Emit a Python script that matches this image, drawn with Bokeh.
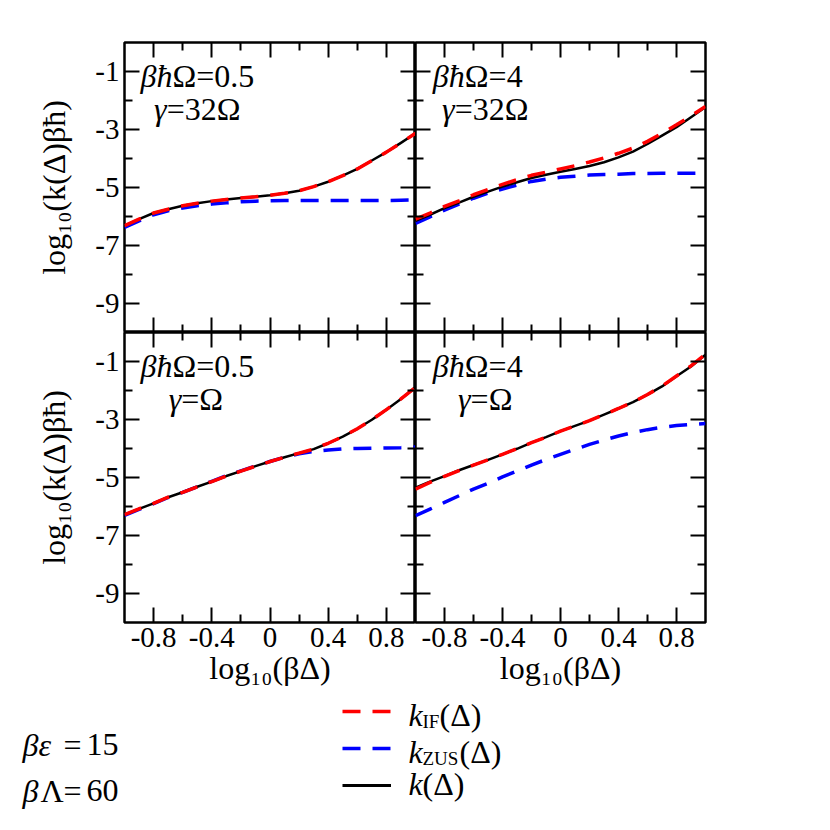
from bokeh.plotting import figure
from bokeh.models import Range1d, LinearAxis, FixedTicker, Label, Legend, LegendItem
from bokeh.layouts import column, row
from bokeh.embed import file_html
from bokeh.resources import INLINE

SERIF = "Liberation Serif"
NAN = float("nan")

# ---------------- data ----------------
x_vals = [-1.0, -0.9, -0.8, -0.7, -0.6, -0.5, -0.4, -0.3, -0.2, -0.1, 0.0,
          0.1, 0.2, 0.3, 0.4, 0.5, 0.6, 0.7, 0.8, 0.9, 1.0]

# top-left: beta hbar Omega = 0.5, gamma = 32 Omega
tl_k = [-6.32, -6.09, -5.88, -5.75, -5.63, -5.54, -5.47, -5.41, -5.36, -5.32, -5.27,
        -5.20, -5.11, -4.97, -4.80, -4.59, -4.36, -4.07, -3.78, -3.46, -3.13]
tl_kif = [-6.32, -6.09, -5.88, -5.75, -5.63, -5.54, -5.47, -5.41, -5.36, -5.32, -5.27,
          -5.20, -5.11, -4.97, -4.80, -4.59, -4.36, -4.07, -3.78, -3.46, -3.13]
tl_kzus = [-6.38, -6.15, -5.94, -5.80, -5.71, -5.63, -5.57, -5.53, -5.49, -5.47, -5.46,
           -5.45, -5.45, -5.45, -5.45, -5.45, -5.45, -5.45, -5.45, -5.44, -5.43]

# top-right: beta hbar Omega = 4, gamma = 32 Omega
tr_k = [-6.15, -5.94, -5.71, -5.52, -5.32, -5.14, -4.97, -4.82, -4.67, -4.56, -4.46,
        -4.36, -4.26, -4.13, -3.96, -3.76, -3.50, -3.21, -2.92, -2.58, -2.23]
tr_kif = [-6.09, -5.88, -5.65, -5.46, -5.25, -5.07, -4.89, -4.73, -4.58, -4.47, -4.36,
          -4.25, -4.12, -3.98, -3.82, -3.64, -3.41, -3.13, -2.84, -2.53, -2.21]
tr_kzus = [-6.24, -6.01, -5.78, -5.57, -5.37, -5.19, -5.05, -4.92, -4.79, -4.71, -4.65,
           -4.61, -4.57, -4.55, -4.54, -4.52, -4.52, -4.51, -4.51, -4.51, -4.50]

# bottom-left: beta hbar Omega = 0.5, gamma = Omega
bl_k = [-6.28, -6.08, -5.89, -5.68, -5.51, -5.32, -5.14, -4.95, -4.78, -4.61, -4.45,
        -4.30, -4.16, -4.02, -3.82, -3.59, -3.32, -3.01, -2.66, -2.29, -1.89]
bl_kif = [-6.28, -6.08, -5.89, -5.68, -5.51, -5.32, -5.14, -4.95, -4.78, -4.61, -4.45,
          -4.30, -4.16, -4.02, -3.82, -3.59, -3.32, -3.01, -2.66, -2.29, -1.89]
bl_kzus = [-6.31, -6.10, -5.90, -5.69, -5.51, -5.32, -5.13, -4.94, -4.77, -4.60, -4.45,
           -4.30, -4.18, -4.10, -4.05, -4.01, -4.00, -3.99, -3.98, -3.97, -3.95]

# bottom-right: beta hbar Omega = 4, gamma = Omega
br_k = [-5.35, -5.14, -4.95, -4.75, -4.57, -4.39, -4.20, -4.01, -3.80, -3.61, -3.40,
        -3.22, -3.04, -2.83, -2.62, -2.40, -2.14, -1.86, -1.51, -1.17, -0.77]
br_kif = [-5.40, -5.17, -4.96, -4.76, -4.57, -4.39, -4.20, -4.01, -3.80, -3.61, -3.40,
          -3.22, -3.04, -2.83, -2.62, -2.40, -2.14, -1.85, -1.50, -1.15, -0.75]
br_kzus = [-6.32, -6.09, -5.86, -5.63, -5.40, -5.20, -4.98, -4.78, -4.57, -4.38, -4.20,
           -4.03, -3.86, -3.71, -3.57, -3.45, -3.35, -3.27, -3.21, -3.17, -3.14]

x_major = [-0.8, -0.4, 0.0, 0.4, 0.8]
x_major_labels = ["-0.8", "-0.4", "0", "0.4", "0.8"]
x_minor = [-0.6, -0.2, 0.2, 0.6]
y_major = [-9, -7, -5, -3, -1]
y_major_labels = ["-9", "-7", "-5", "-3", "-1"]
y_minor = [-8, -6, -4, -2]

panel_text1 = [("βħ", "Ω=0.5"), ("βħ", "Ω=4"), ("βħ", "Ω=0.5"), ("βħ", "Ω=4")]
panel_text2 = [("γ", "=32Ω"), ("γ", "=32Ω"), ("γ", "=Ω"), ("γ", "=Ω")]
split1 = [-0.67, -0.66, -0.67, -0.66]
split2 = [-0.71, -0.73, -0.61, -0.62]

x_title = "log₁₀(βΔ)"
y_title = "log₁₀(k(Δ)βħ)"

RED = "#ff0000"
BLUE = "#0000ff"
DASH = "18 12"


def style_axis(ax, major, labels, minor, show, title=None):
    ax.ticker = FixedTicker(ticks=major, minor_ticks=minor)
    ax.major_tick_in = 15
    ax.major_tick_out = 0
    ax.minor_tick_in = 8
    ax.minor_tick_out = 0
    ax.major_tick_line_width = 2
    ax.minor_tick_line_width = 2
    ax.major_tick_line_color = "black"
    ax.minor_tick_line_color = "black"
    ax.axis_line_color = None
    ax.major_label_text_font = SERIF
    if show:
        ax.major_label_overrides = {m: l for m, l in zip(major, labels)}
        ax.major_label_text_font_size = "29px"
        ax.major_label_text_color = "black"
        ax.major_label_standoff = 5
    else:
        ax.major_label_overrides = {m: "" for m in major}
        ax.major_label_text_font_size = "1px"
        ax.major_label_text_color = None
        ax.major_label_standoff = 0
    if title:
        ax.axis_label = title
        ax.axis_label_text_font = SERIF
        ax.axis_label_text_font_size = "32px"
        ax.axis_label_text_font_style = "normal"
        ax.axis_label_text_color = "black"


def make_panel(idx, k, kif, kzus, left, top):
    p = figure(frame_width=291 if left else 290, frame_height=290,
               x_range=Range1d(-1, 1), y_range=Range1d(-10, 0),
               x_axis_location=None, y_axis_location=None,
               output_backend="svg", toolbar_location=None,
               min_border_left=124 if left else 0,
               min_border_right=0 if left else 24,
               min_border_top=42 if top else 0,
               min_border_bottom=0 if top else 75)
    p.xgrid.visible = False
    p.ygrid.visible = False
    p.outline_line_color = "black"
    p.outline_line_width = 2.5
    p.background_fill_color = "white"
    p.border_fill_color = "white"

    ax_b = LinearAxis()
    style_axis(ax_b, x_major, x_major_labels, x_minor, not top, None if top else x_title)
    if not top:
        ax_b.axis_label_standoff = 0
    p.add_layout(ax_b, "below")
    ax_t = LinearAxis()
    style_axis(ax_t, x_major, x_major_labels, x_minor, False)
    p.add_layout(ax_t, "above")
    ax_l = LinearAxis()
    style_axis(ax_l, y_major, y_major_labels, y_minor, left, y_title if left else None)
    if left:
        ax_l.axis_label_standoff = 20
    p.add_layout(ax_l, "left")
    ax_r = LinearAxis()
    style_axis(ax_r, y_major, y_major_labels, y_minor, False)
    p.add_layout(ax_r, "right")

    p.line(x_vals, kzus, line_color=BLUE, line_width=3.5, line_dash=DASH)
    p.line(x_vals, k, line_color="black", line_width=2.5, line_join="round")
    p.line(x_vals, kif, line_color=RED, line_width=3.5, line_dash=DASH)

    (a1, b1), (a2, b2) = panel_text1[idx], panel_text2[idx]
    for txt, style, align, xs, ys in [
        (a1, "italic", "right", split1[idx], -1.14),
        (b1, "normal", "left", split1[idx], -1.14),
        (a2, "italic", "right", split2[idx], -2.31),
        (b2, "normal", "left", split2[idx], -2.31),
    ]:
        p.add_layout(Label(x=xs, y=ys, text=txt, text_font=SERIF,
                           text_font_size="32px", text_font_style=style,
                           text_align=align, text_baseline="alphabetic",
                           text_color="black"))
    return p


p_tl = make_panel(0, tl_k, tl_kif, tl_kzus, True, True)
p_tr = make_panel(1, tr_k, tr_kif, tr_kzus, False, True)
p_bl = make_panel(2, bl_k, bl_kif, bl_kzus, True, False)
p_br = make_panel(3, br_k, br_kif, br_kzus, False, False)

# ---------------- legend / parameter strip ----------------
lg = figure(width=814, height=125, x_range=Range1d(0, 814), y_range=Range1d(125, 0),
            x_axis_location=None, y_axis_location=None,
            output_backend="svg", toolbar_location=None, min_border=0)
lg.xgrid.visible = False
lg.ygrid.visible = False
lg.outline_line_color = None
lg.background_fill_color = "white"
lg.border_fill_color = "white"

# legend-only renderers (nothing visible in the strip itself)
r_if = lg.line([NAN], [NAN], line_color=RED, line_width=3.5, line_dash=DASH)
r_zus = lg.line([NAN], [NAN], line_color=BLUE, line_width=3.5, line_dash=DASH)
r_k = lg.line([NAN], [NAN], line_color="black", line_width=3)
legend = Legend(items=[LegendItem(label=" ", renderers=[r_if]),
                       LegendItem(label=" ", renderers=[r_zus]),
                       LegendItem(label=" ", renderers=[r_k])],
                location=(342, 27), glyph_width=49, glyph_height=20,
                label_height=20, label_text_font_size="8px", spacing=17,
                padding=0, margin=0, border_line_color=None,
                background_fill_alpha=0, label_standoff=0)
lg.add_layout(legend, "center")

legend_texts = [
    # text, x, baseline, size, style
    ("k", 408, 17, "32px", "italic"),
    ("IF", 422, 24, "19px", "normal"),
    ("(Δ)", 439, 17, "32px", "normal"),
    ("k", 408, 54, "32px", "italic"),
    ("ZUS", 422, 61, "19px", "normal"),
    ("(Δ)", 459, 54, "32px", "normal"),
    ("k", 408, 86, "32px", "italic"),
    ("(Δ)", 422, 86, "32px", "normal"),
    ("βε", 22, 47, "32px", "italic"),
    ("=", 63, 47, "32px", "normal"),
    ("15", 86, 47, "32px", "normal"),
    ("β", 22, 93, "32px", "italic"),
    ("Λ", 40, 93, "32px", "normal"),
    ("=", 63, 93, "32px", "normal"),
    ("60", 86, 93, "32px", "normal"),
]
for txt, xx, yy, sz, st in legend_texts:
    lg.add_layout(Label(x=xx, y=yy, text=txt, text_font=SERIF, text_font_size=sz,
                        text_font_style=st, text_align="left",
                        text_baseline="alphabetic", text_color="black"))

layout = column(row(p_tl, p_tr), row(p_bl, p_br), lg)

open("out.html", "w").write(file_html(layout, INLINE))
